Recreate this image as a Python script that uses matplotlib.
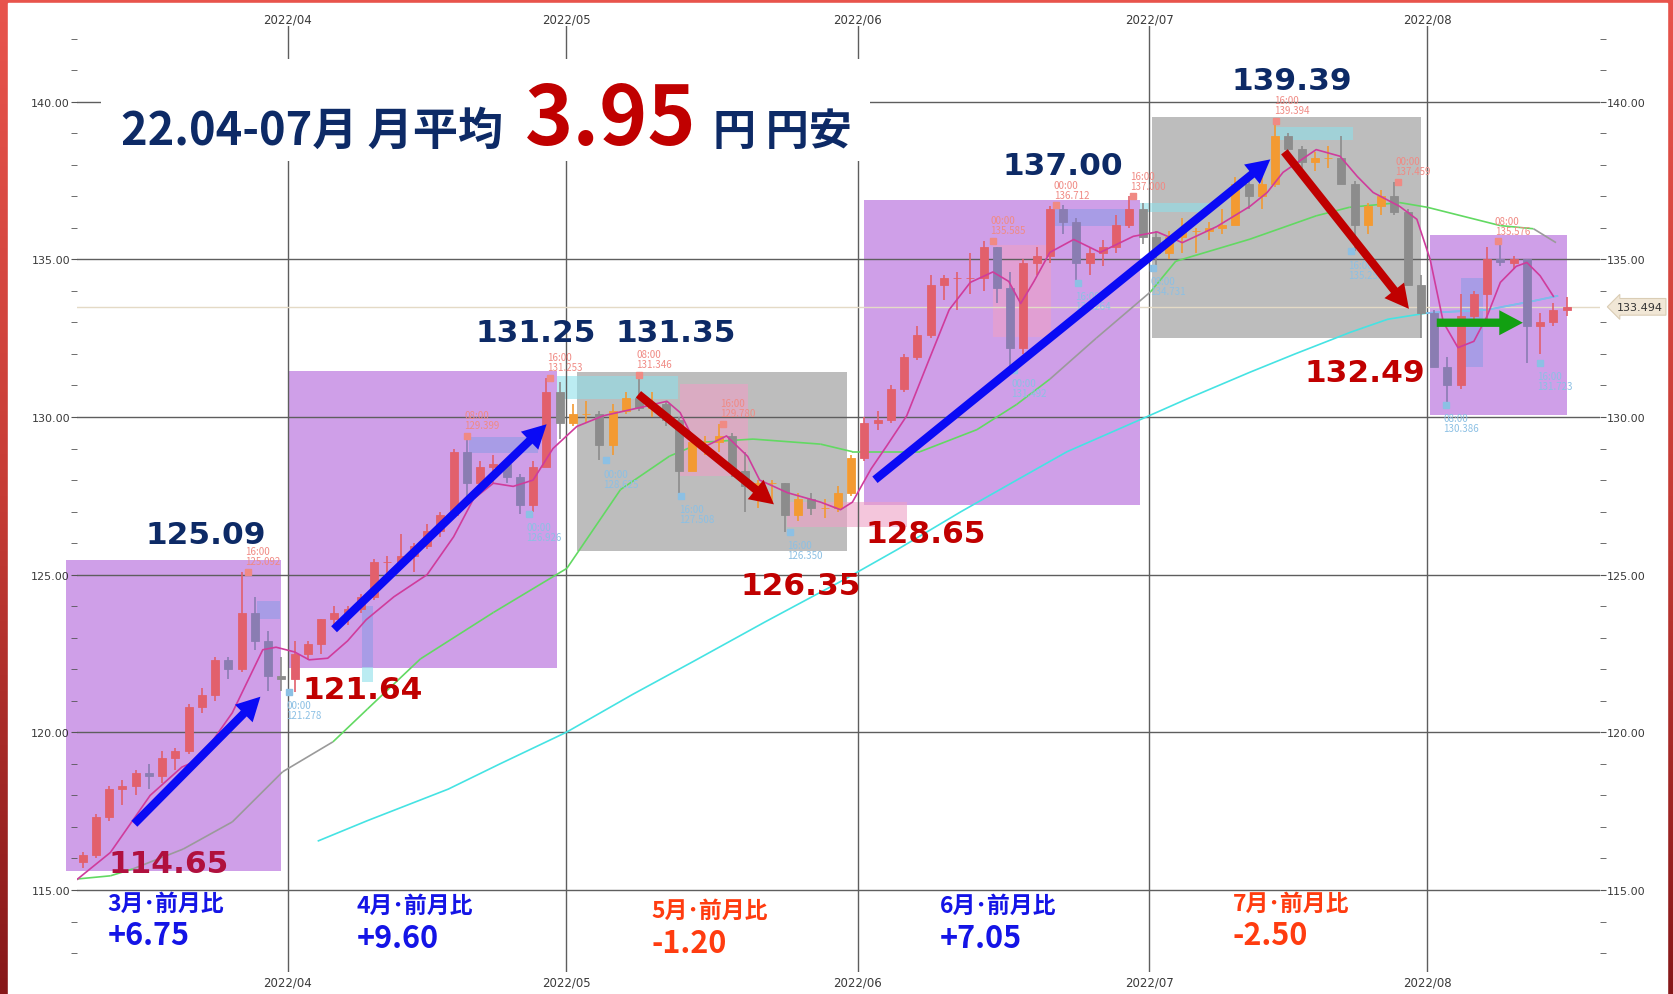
import numpy as np
import matplotlib
matplotlib.use("Agg")
import matplotlib.pyplot as plt
from matplotlib.patches import Rectangle, FancyArrowPatch
from matplotlib.collections import LineCollection
from matplotlib.colors import LinearSegmentedColormap
from matplotlib.ticker import MultipleLocator, FormatStrFormatter
import matplotlib.transforms as mtransforms

plt.rcParams["font.family"] = ["Noto Sans CJK JP", "DejaVu Sans"]

# x axis = weekday index, 0 = 2022/04/01
month_pos = [0, 21, 43, 65, 86]
month_labels = ["2022/04", "2022/05", "2022/06", "2022/07", "2022/08"]

# daily USD/JPY candles, 2022/03/10 (index -16) .. 2022/08/15 (index 96)
first_day = -16
first_open = 115.9
closes = [116.1, 117.3,
          118.2, 118.3, 118.7, 118.6, 119.2,
          119.4, 120.8, 121.2, 122.3, 122.0,
          123.8, 122.9, 121.8, 121.7, 122.5,
          122.8, 123.6, 123.8, 123.9, 124.3,
          125.4, 125.4, 125.6, 125.9, 126.4,
          126.9, 128.9, 127.9, 128.4, 128.5,
          128.1, 127.2, 128.4, 130.8, 129.8,
          130.1, 130.1, 129.1, 130.2, 130.6,
          130.3, 130.4, 129.9, 128.3, 129.2,
          129.2, 129.4, 128.3, 127.8, 127.9,
          127.9, 126.9, 127.4, 127.1, 127.1,
          127.6, 128.7, 129.8, 129.9, 130.9,
          131.9, 132.6, 134.2, 134.4, 134.4,
          134.4, 135.4, 134.1, 132.2, 134.9,
          135.1, 136.6, 136.2, 134.9, 135.2,
          135.4, 136.1, 136.6, 135.7, 135.2,
          135.7, 135.9, 135.9, 136.0, 136.1,
          137.4, 137.0, 137.4, 138.9, 138.5,
          138.1, 138.2, 138.2, 137.4, 136.1,
          136.7, 137.0, 136.5, 134.2, 133.3,
          131.6, 131.0, 133.2, 133.9, 135.0,
          134.9, 135.0, 132.9, 133.0, 133.4,
          133.49]
highs = [116.2, 117.4,
         118.3, 118.5, 118.8, 119.0, 119.4,
         119.5, 120.9, 121.4, 122.4, 122.4,
         125.09, 124.3, 123.2, 122.4, 122.9,
         122.9, 123.6, 124.0, 124.0, 124.4,
         125.5, 125.6, 126.3, 126.0, 126.6,
         127.0, 129.0, 129.4, 128.6, 128.8,
         128.6, 128.2, 128.6, 131.25, 131.1,
         130.4, 130.5, 130.2, 130.4, 130.8,
         131.35, 130.8, 130.5, 130.0, 129.5,
         129.4, 129.78, 129.5, 128.9, 128.0,
         128.0, 127.9, 127.6, 127.6, 127.4,
         127.8, 128.8, 130.0, 130.2, 131.0,
         132.0, 132.9, 134.5, 134.5, 134.6,
         135.2, 135.59, 135.4, 134.6, 135.0,
         135.4, 136.7, 136.71, 136.3, 135.4,
         135.6, 136.4, 137.0, 136.8, 135.9,
         135.9, 136.3, 136.0, 136.2, 136.6,
         137.6, 137.7, 137.9, 139.39, 139.0,
         138.6, 138.4, 138.6, 138.9, 137.5,
         136.8, 137.2, 137.46, 136.6, 134.5,
         133.4, 131.9, 133.9, 134.0, 135.4,
         135.58, 135.1, 135.0, 133.3, 133.6,
         133.8]
lows = [115.7, 116.0,
        117.2, 117.7, 118.0, 118.2, 118.4,
        118.8, 119.3, 120.6, 121.0, 121.7,
        121.9, 122.6, 121.3, 121.3, 121.28,
        122.3, 122.5, 123.3, 123.4, 123.8,
        124.2, 125.0, 125.3, 125.1, 125.8,
        126.2, 126.9, 127.5, 127.6, 127.9,
        127.9, 126.93, 127.0, 128.4, 129.3,
        129.7, 129.8, 128.63, 128.8, 130.1,
        130.2, 130.0, 129.7, 127.51, 128.3,
        128.8, 128.9, 128.1, 127.0, 127.1,
        127.3, 126.35, 126.7, 126.9, 126.8,
        127.0, 127.5, 128.6, 129.6, 129.8,
        130.8, 131.8, 132.5, 133.7, 133.4,
        133.9, 134.0, 133.6, 131.49, 132.0,
        134.5, 134.9, 135.8, 134.26, 134.5,
        134.8, 135.2, 136.0, 135.5, 134.73,
        135.0, 135.2, 135.2, 135.6, 135.8,
        136.1, 136.6, 136.6, 137.3, 138.2,
        137.9, 137.8, 137.9, 137.4, 135.26,
        135.8, 136.4, 136.4, 134.2, 132.5,
        131.6, 130.39, 130.9, 132.9, 132.9,
        134.8, 134.7, 131.72, 132.0, 132.9,
        133.2]

# moving averages (x index, price)
ma_short_x = [-15.9, -13.4, -10.4, -8, -6.7, -4.2, -1.9, -0.9, 0.5, 1.6, 3.0, 4.5, 5.9, 8, 10.5,
              12.5, 14, 15.5, 17, 18.5, 20, 21.8, 23.8, 25.5, 27.1, 28.6, 29.6, 30.6, 31.6, 33.1,
              34.7, 35.6, 37.7, 40.2, 41.7, 42.6, 44, 45.2, 46.7, 48.3, 49.9, 51.5, 53.2, 54.4,
              55.3, 56.3, 57.5, 59.3, 61.3, 63.8, 65.6, 67.5, 70.1, 72.6, 73.9, 75.1, 77.6, 79.4,
              80.7, 81.9, 83.9, 85.2, 86.2, 87.2, 88.3, 89.5, 90.5, 91.5, 92.7, 93.5, 94.5, 95.5]
ma_short_y = [115.34, 116.19, 118.0, 118.9, 119.13, 120.62, 122.62, 122.7, 122.55, 122.3, 122.35,
              122.9, 123.57, 124.3, 125.0, 126.2, 127.4, 127.9, 127.8, 128.0, 129.0, 129.7, 130.04,
              130.2, 130.35, 130.5, 130.14, 129.3, 129.09, 129.4, 128.75, 128.0, 127.6, 127.3,
              127.06, 127.3, 128.35, 129.09, 130.04, 131.73, 133.4, 134.27, 134.6, 134.3, 133.6,
              134.3, 135.22, 135.63, 135.22, 135.73, 135.87, 135.53, 136.04, 136.68, 137.12,
              137.76, 138.48, 138.27, 137.63, 137.12, 136.68, 136.27, 135.0, 133.0, 132.2, 132.4,
              133.2, 134.27, 134.78, 134.9, 134.48, 133.83]
ma_mid_x = [-15.9, -13.4, -11.7, -7.9, -4.2, -0.4, 3.4, 6.0, 10.0, 15.5, 21.05, 25.1, 28.8, 31.3,
            35.1, 40.2, 42.6, 47.7, 52, 55, 57.5, 61, 65.1, 67.0, 72.6, 77.6, 80.1, 83.9, 86,
            91.5, 94.0, 95.7]
ma_mid_y = [115.35, 115.45, 115.67, 116.3, 117.16, 118.75, 119.7, 120.74, 122.33, 123.8, 125.2,
            127.7, 128.76, 129.2, 129.3, 129.14, 128.9, 128.9, 129.6, 130.4, 131.2, 132.5, 133.97,
            134.94, 135.64, 136.38, 136.65, 136.8, 136.65, 136.07, 135.97, 135.53]
ma_mid_gray = [(-12.5, 2.0), (57.0, 65.1), (94.5, 96.0)]
ma_long_x = [2.3, 6, 12.1, 16, 21, 26, 30.6, 36, 42, 46, 50.8, 55, 58.8, 64.5, 68, 72.6, 76, 80.2,
             83, 86, 90.5, 94, 95.8]
ma_long_y = [116.56, 117.2, 118.2, 119.0, 120.0, 121.2, 122.25, 123.5, 124.85, 125.8, 127.0, 128.0,
             128.9, 129.95, 130.6, 131.42, 132.0, 132.69, 133.1, 133.3, 133.4, 133.68, 133.84]
last_price = 133.494

# trend boxes per month
box_x0 = [-16.74, 0.02, 21.8, 43.5, 65.2, 86.2]
box_x1 = [-0.55, 20.3, 42.2, 64.3, 85.5, 96.5]
box_low = [115.61, 122.05, 125.74, 127.2, 132.51, 130.07]
box_high = [125.47, 131.46, 131.43, 136.88, 139.53, 135.77]
box_trend = ["up", "up", "down", "up", "down", "up"]

# small highlight zones
zone_kind = ["blue", "blue", "cyan", "blue", "cyan", "pink", "pink", "pink", "blue", "cyan", "cyan", "blue"]
zone_x0 = [-2.3, 5.6, 5.6, 13.7, 20.3, 29.6, 37.7, 53.2, 57.9, 64.3, 74.6, 88.5]
zone_x1 = [-0.6, 6.4, 6.4, 18.9, 29.4, 34.7, 46.7, 57.6, 63.7, 69.6, 80.4, 90.2]
zone_low = [123.59, 122.07, 121.6, 128.85, 130.57, 128.13, 126.5, 132.55, 136.07, 136.5, 138.8, 131.6]
zone_high = [124.16, 124.0, 122.07, 129.36, 131.3, 131.04, 127.3, 135.46, 136.6, 136.8, 139.2, 134.4]

# swing highs / lows marked on the chart
swing_x = [-3.0, 0.1, 13.5, 18.2, 19.8, 26.5, 24.0, 32.8, 29.7, 37.9, 54.8, 53.2, 58.0, 63.8,
           59.6, 65.3, 74.6, 83.8, 80.2, 87.4, 91.3, 94.5]
swing_y = [125.092, 121.278, 129.399, 126.926, 131.253, 131.346, 128.625, 129.780, 127.508,
           126.350, 131.492, 135.585, 136.712, 137.000, 134.264, 134.731, 139.394, 137.459,
           135.255, 130.386, 135.576, 131.723]
swing_time = ["16:00", "00:00", "08:00", "00:00", "16:00", "08:00", "00:00", "16:00", "16:00",
              "16:00", "00:00", "00:00", "00:00", "16:00", "16:00", "08:00", "16:00", "00:00",
              "16:00", "08:00", "08:00", "16:00"]
swing_kind = ["high", "low", "high", "low", "high", "high", "low", "high", "low", "low", "low",
              "high", "high", "high", "low", "low", "high", "high", "low", "low", "high", "low"]

# key price callouts
peak_text = ["125.09", "114.65", "121.64", "131.25", "131.35", "126.35", "128.65", "137.00",
             "139.39", "132.49"]
peak_x = [-6.19, -8.98, 5.66, 18.71, 29.27, 38.69, 48.12, 58.5, 75.77, 81.24]
peak_y = [126.29, 115.83, 121.36, 132.68, 132.68, 124.65, 126.31, 137.98, 140.68, 131.40]
peak_kind = ["high", "start", "low", "high", "high", "low", "low", "high", "high", "low"]

# trend arrows
arrow_x0 = [-11.59, 3.48, 26.45, 44.3, 75.2, 86.7]
arrow_y0 = [117.10, 123.27, 130.72, 128.01, 138.41, 132.99]
arrow_x1 = [-2.08, 19.52, 36.68, 74.14, 84.6, 93.2]
arrow_y1 = [121.13, 129.77, 127.23, 138.17, 133.43, 132.99]
arrow_trend = ["up", "up", "down", "up", "down", "flat"]

# month on month change
change_month = ["3月･前月比", "4月･前月比", "5月･前月比", "6月･前月比", "7月･前月比"]
change_value = ["+6.75", "+9.60", "-1.20", "+7.05", "-2.50"]
change_x = [-13.6, 5.17, 27.4, 49.2, 71.3]
change_y = [114.59, 114.52, 114.36, 114.52, 114.59]

W, H = 1674, 995
navy = "#0d2a66"
dark_red = "#c00000"

fig = plt.figure(figsize=(W / 100, H / 100), dpi=100)

# red frame behind the white card
bg = fig.add_axes([0, 0, 1, 1], zorder=-10)
frame_cmap = LinearSegmentedColormap.from_list("frame", ["#e8544c", "#c63c35", "#861819"])
bg.imshow(np.linspace(0, 1, 256).reshape(-1, 1), aspect="auto", cmap=frame_cmap, extent=[0, 1, 0, 1])
bg.add_patch(Rectangle((8 / W, 0), (1667 - 8) / W, 1 - 4 / H, color="white"))
bg.set_xlim(0, 1)
bg.set_ylim(0, 1)
bg.axis("off")

ax = fig.add_axes([77 / W, 1 - 973 / H, (1600 - 77) / W, (973 - 27) / H])
ax.patch.set_alpha(0)
ax.set_xlim(-15.92, 99.02)
ax.set_ylim(112.40, 142.40)
for s in ax.spines.values():
    s.set_visible(False)

# boxes
box_colors = {"up": "#cf9fe8", "down": "#bdbdbd"}
for x0, x1, lo, hi, tr in zip(box_x0, box_x1, box_low, box_high, box_trend):
    ax.add_patch(Rectangle((x0, lo), x1 - x0, hi - lo, fc=box_colors[tr], ec="none",
                           zorder=1, clip_on=False))

zone_colors = {"blue": "#8f9ae6", "cyan": "#8fe0ea", "pink": "#eea0c6"}
for k, x0, x1, lo, hi in zip(zone_kind, zone_x0, zone_x1, zone_low, zone_high):
    ax.add_patch(Rectangle((x0, lo), x1 - x0, hi - lo, fc=zone_colors[k], ec="none",
                           alpha=0.6, zorder=1.2))

# grid and axes labels
ax.set_xticks(month_pos)
ax.set_xticklabels(month_labels)
ax.yaxis.set_major_locator(MultipleLocator(5))
ax.yaxis.set_minor_locator(MultipleLocator(1))
ax.yaxis.set_major_formatter(FormatStrFormatter("%.2f"))
ax.grid(True, which="major", color="#5e5e5e", lw=1)
ax.tick_params(axis="x", which="both", length=0, labeltop=False, labelbottom=True,
               labelsize=8.5, labelcolor="#3a3a3a", pad=2.5, labelfontfamily="DejaVu Sans")
ax.tick_params(axis="y", which="both", left=True, right=True, labelleft=True, labelright=True,
               length=4, color="#555555", labelsize=8, labelcolor="#3a3a3a", pad=1,
               labelfontfamily="DejaVu Sans")
top_trans = mtransforms.blended_transform_factory(ax.transData, ax.transAxes)
for p, lbl in zip(month_pos, month_labels):
    ax.text(p, 1.0078, lbl, transform=top_trans, ha="center", va="center", fontsize=8.5,
            family="DejaVu Sans", color="#3a3a3a", clip_on=False)
ax.axhline(last_price, color="#e4dac6", lw=1, zorder=1.6)

# moving averages
ax.plot(ma_long_x, ma_long_y, color="#45e3e3", lw=1.2, zorder=3)
long_after = [i for i, x in enumerate(ma_long_x) if x >= month_pos[-1]]
ax.plot([ma_long_x[i] for i in long_after], [ma_long_y[i] for i in long_after],
        color="#86b6ec", lw=1.2, zorder=3.1)

pts = np.column_stack([ma_mid_x, ma_mid_y])
segs = np.stack([pts[:-1], pts[1:]], axis=1)
seg_colors = []
for a, b in zip(ma_mid_x[:-1], ma_mid_x[1:]):
    mid = (a + b) / 2
    gray = any(lo <= mid <= hi for lo, hi in ma_mid_gray)
    seg_colors.append("#9a9a9a" if gray else "#62d962")
ax.add_collection(LineCollection(segs, colors=seg_colors, lw=1.2, zorder=3))

# candles
opens = [first_open] + closes[:-1]
xs = np.arange(len(closes)) + first_day + 0.5
body_colors = []
for x, o, c in zip(xs, opens, closes):
    in_purple = any(x0 <= x <= x1 and tr == "up"
                    for x0, x1, tr in zip(box_x0, box_x1, box_trend))
    if c >= o:
        body_colors.append("#e2606c" if in_purple else "#f39a32")
    else:
        body_colors.append("#8a7db2" if in_purple else "#8c8c8c")
ax.vlines(xs, lows, highs, colors=body_colors, lw=1.2, zorder=4)
ax.bar(xs, np.array(closes) - np.array(opens), bottom=opens, width=0.6, color=body_colors,
       edgecolor=body_colors, lw=0.6, zorder=4.1)

ax.plot(ma_short_x, ma_short_y, color="#cf3c9c", lw=1.2, zorder=4.5)

# swing markers
for x, y, t, k in zip(swing_x, swing_y, swing_time, swing_kind):
    col = "#f08a84" if k == "high" else "#8cc0e4"
    ax.plot(x, y, marker="s", ms=4.5, color=col, zorder=4.6)
    off = 4 if k == "high" else -6
    ax.annotate(f"{t}\n{y:.3f}", (x, y), xytext=(-2, off), textcoords="offset points",
                ha="left", va="bottom" if k == "high" else "top", fontsize=7,
                color=col, linespacing=1.0, zorder=4.7)

# arrows
arrow_colors = {"up": "#0a0af5", "down": "#c00000", "flat": "#12a012"}
for x0, y0, x1, y1, tr in zip(arrow_x0, arrow_y0, arrow_x1, arrow_y1, arrow_trend):
    ax.add_patch(FancyArrowPatch((x0, y0), (x1, y1),
                                 arrowstyle="simple,head_length=0.85,head_width=0.9,tail_width=0.3",
                                 mutation_scale=20, color=arrow_colors[tr], lw=0,
                                 shrinkA=0, shrinkB=0, zorder=5))

# price callouts
peak_colors = {"high": navy, "low": dark_red, "start": "#b0103e"}
for t, x, y, k in zip(peak_text, peak_x, peak_y, peak_kind):
    ax.text(x, y, t, ha="center", va="center", fontsize=22.5, fontweight="bold",
            family="DejaVu Sans", color=peak_colors[k], zorder=6)

# monthly change
for m, v, x, y in zip(change_month, change_value, change_x, change_y):
    col = "#1414e6" if v.startswith("+") else "#ff3c10"
    ax.text(x, y, m, ha="left", va="center", fontsize=16.5, fontweight="bold", color=col,
            zorder=6, clip_on=False)
    ax.text(x, y - 1.03, v, ha="left", va="center", fontsize=22, fontweight="bold", color=col,
            zorder=6, clip_on=False)

# current price tag
trans = mtransforms.blended_transform_factory(ax.transAxes, ax.transData)
ax.text(1.026, last_price, f"{last_price:.3f}", transform=trans, ha="center", va="center",
        fontsize=8, family="DejaVu Sans", color="#333333", clip_on=False,
        bbox=dict(boxstyle="larrow,pad=0.3", fc="#f1e7d6", ec="#dacdb5", lw=0.8))

# title on a white panel
fig.add_artist(Rectangle((101 / W, 1 - 162 / H), (870 - 101) / W, (162 - 60) / H,
                         transform=fig.transFigure, fc="white", ec="none", zorder=5))
base = 1 - 145 / H
fig.text(121 / W, base, "22.04-07月 月平均", fontsize=32.5, fontweight="bold", color=navy,
         va="baseline", zorder=6)
fig.text(525 / W, base, "3.95", fontsize=59, fontweight="bold", color=dark_red,
         va="baseline", zorder=6)
fig.text(713 / W, base, "円 円安", fontsize=31, fontweight="bold", color=navy,
         va="baseline", zorder=6)

fig.savefig("out.png", dpi=100)
